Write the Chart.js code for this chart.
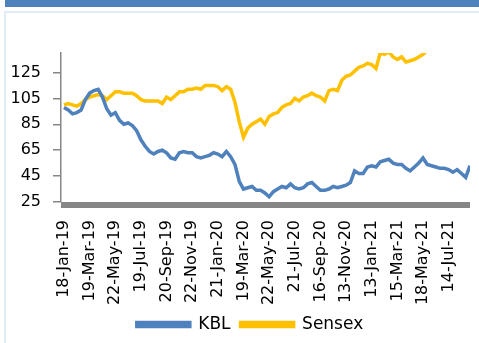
<!doctype html>
<html lang="en">
<head>
<meta charset="UTF-8">
<title>KBL vs Sensex</title>
<script src="https://cdn.jsdelivr.net/npm/chart.js@4.4.1/dist/chart.umd.min.js"></script>
<style>
  html, body { margin: 0; padding: 0; background: #fff; }
  #page { position: relative; width: 479px; height: 343px; overflow: hidden; }
  #topbar { position: absolute; left: 5px; top: 0; width: 474px; height: 7px; background: #4f81bd; }
  #frame { position: absolute; left: 4px; top: 11px; width: 490px; height: 340px; border: 2px solid #e1ecf7; box-sizing: border-box; }
  #wrap { position: absolute; left: 0; top: 0; width: 479px; height: 343px; }
</style>
</head>
<body>
<div id="page">
  <div id="topbar"></div>
  <div id="frame"></div>
  <div id="wrap"><canvas id="c"></canvas></div>
</div>
<script>
// tick labels along the date axis, one every 6 points
var dateTicks = ['18-Jan-19', '19-Mar-19', '22-May-19', '19-Jul-19', '20-Sep-19', '22-Nov-19',
  '21-Jan-20', '19-Mar-20', '22-May-20', '21-Jul-20', '16-Sep-20', '13-Nov-20',
  '13-Jan-21', '15-Mar-21', '18-May-21', '14-Jul-21'];
var pointsPerTick = 6;
var yTicks = [25, 45, 65, 85, 105, 125];

// rebased prices
var kbl = [98, 96, 93, 94, 96, 104, 109, 111, 112, 106,
  97, 92, 94, 88, 85, 86, 84, 80, 73, 68,
  64, 62, 64, 65, 63, 59, 58, 63, 64, 63,
  63, 60, 59, 60, 61, 63, 62, 60, 64, 60,
  54, 41, 35, 36, 37, 34, 34, 32, 29, 33,
  35, 37, 36, 39, 36, 35, 36, 39, 40, 37,
  34, 34, 35, 37, 36, 37, 38, 40, 49, 47,
  47, 52, 53, 52, 56, 57, 58, 55, 54, 54,
  51, 49, 52, 55, 59, 54, 53, 52, 51, 51,
  50, 48, 50, 47, 44, 53];
var sensex = [100, 101, 100, 99, 101, 104, 106, 107, 108, 107,
  104, 107, 110, 110, 109, 109, 109, 107, 104, 103,
  103, 103, 103, 101, 106, 104, 107, 110, 110, 112,
  112, 113, 112, 115, 115, 115, 114, 111, 114, 112,
  102, 87, 75, 82, 85, 87, 89, 85, 91, 93,
  94, 98, 100, 101, 105, 103, 106, 107, 109, 107,
  106, 103, 111, 112, 111, 119, 122, 123, 126, 129,
  130, 132, 131, 128, 140, 139, 141, 137, 135, 137,
  133, 134, 135, 137, 139, 142, 145, 147, 146, 148,
  150, 149, 150, 148, 150, 151];

function xy(arr) {
  return arr.map(function (v, i) { return { x: i, y: v }; });
}

// thick grey category axis bar like the Excel original
var axisBar = {
  id: 'axisBar',
  afterDatasetsDraw: function (chart) {
    var a = chart.chartArea, ctx = chart.ctx;
    ctx.save();
    ctx.fillStyle = '#868686';
    ctx.fillRect(a.left, a.bottom, a.right - a.left, 6);
    ctx.restore();
  }
};

// legend sits a little right of page centre in the original
var legendShift = {
  id: 'legendShift',
  afterLayout: function (chart) {
    chart.legend.left += 15;
    chart.legend.right += 15;
  }
};

new Chart(document.getElementById('c'), {
  type: 'line',
  data: {
    datasets: [
      { label: 'KBL', data: xy(kbl), borderColor: '#4f81bd', backgroundColor: '#4f81bd', borderWidth: 3.5 },
      { label: 'Sensex', data: xy(sensex), borderColor: '#ffc000', backgroundColor: '#ffc000', borderWidth: 3.5 }
    ]
  },
  plugins: [axisBar, legendShift],
  options: {
    responsive: true,
    maintainAspectRatio: false,
    devicePixelRatio: 1,
    animation: false,
    layout: { padding: { top: 53, right: 9, bottom: 0, left: 0 } },
    elements: { point: { radius: 0 }, line: { tension: 0 } },
    plugins: {
      legend: {
        position: 'bottom',
        labels: { boxWidth: 53, boxHeight: 4, padding: 10, color: '#000', font: { family: 'DejaVu Sans', size: 17 } }
      },
      tooltip: { enabled: false }
    },
    scales: {
      x: {
        type: 'linear',
        min: -0.7,
        max: 95,
        grid: { display: false },
        border: { display: false },
        afterBuildTicks: function (s) {
          s.ticks = dateTicks.map(function (_, k) { return { value: k * pointsPerTick }; });
        },
        afterFit: function (s) { s.height = 104; },
        ticks: {
          autoSkip: false,
          minRotation: 90,
          maxRotation: 90,
          padding: 10,
          color: '#000',
          font: { family: 'DejaVu Sans', size: 16 },
          callback: function (v) { return dateTicks[Math.round(v / pointsPerTick)]; }
        }
      },
      y: {
        min: 25,
        max: 140,
        afterBuildTicks: function (s) {
          s.ticks = yTicks.map(function (v) { return { value: v }; });
        },
        afterFit: function (s) { s.width = 61; },
        grid: { drawOnChartArea: false, drawTicks: true, tickLength: 8, color: '#868686', lineWidth: 1.5 },
        border: { display: true, color: '#868686', width: 1.5 },
        ticks: { padding: 12, color: '#000', font: { family: 'DejaVu Sans', size: 16 } }
      }
    }
  }
});
</script>
</body>
</html>
